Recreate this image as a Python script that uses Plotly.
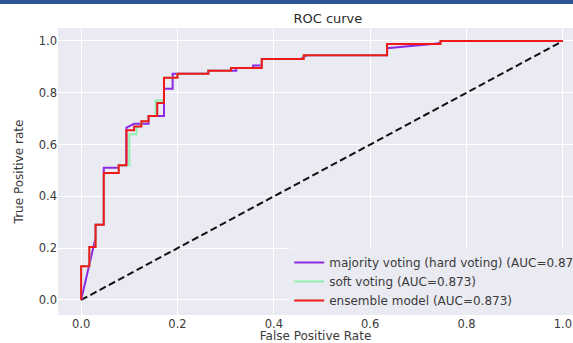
import plotly.graph_objects as go

# Data
hard_fpr = [0, 0.03, 0.03, 0.047, 0.047, 0.078, 0.078, 0.094, 0.094, 0.11, 0.14, 0.14, 0.172, 0.172, 0.19, 0.19,
            0.264, 0.264, 0.322, 0.322, 0.357, 0.357, 0.375, 0.375, 0.455, 0.47, 0.635, 0.635, 0.74, 0.75, 1.0]
hard_tpr = [0, 0.24, 0.29, 0.29, 0.51, 0.51, 0.52, 0.52, 0.665, 0.68, 0.68, 0.71, 0.71, 0.815, 0.815, 0.873,
            0.873, 0.885, 0.885, 0.896, 0.896, 0.905, 0.905, 0.93, 0.93, 0.945, 0.945, 0.972, 0.99, 1.0, 1.0]

soft_fpr = [0, 0, 0.017, 0.017, 0.03, 0.03, 0.047, 0.047, 0.078, 0.078, 0.1, 0.1, 0.115, 0.115, 0.125, 0.125,
            0.14, 0.14, 0.155, 0.155, 0.172, 0.172, 0.2, 0.2, 0.264, 0.264, 0.311, 0.311, 0.375, 0.375,
            0.462, 0.462, 0.635, 0.635, 0.746, 0.746, 1.0]
soft_tpr = [0, 0.13, 0.13, 0.205, 0.205, 0.29, 0.29, 0.49, 0.49, 0.52, 0.52, 0.64, 0.64, 0.67, 0.67, 0.69,
            0.69, 0.71, 0.71, 0.77, 0.77, 0.858, 0.858, 0.873, 0.873, 0.885, 0.885, 0.896, 0.896, 0.93,
            0.93, 0.945, 0.945, 0.988, 0.988, 1.0, 1.0]

ens_fpr = [0, 0, 0.017, 0.017, 0.03, 0.03, 0.047, 0.047, 0.078, 0.078, 0.094, 0.094, 0.11, 0.11, 0.125, 0.125,
           0.14, 0.14, 0.158, 0.158, 0.172, 0.172, 0.2, 0.2, 0.264, 0.264, 0.311, 0.311, 0.375, 0.375,
           0.462, 0.462, 0.635, 0.635, 0.746, 0.746, 1.0]
ens_tpr = [0, 0.13, 0.13, 0.205, 0.205, 0.29, 0.29, 0.49, 0.49, 0.52, 0.52, 0.655, 0.655, 0.67, 0.67, 0.69,
           0.69, 0.71, 0.71, 0.76, 0.76, 0.858, 0.858, 0.873, 0.873, 0.885, 0.885, 0.896, 0.896, 0.93,
           0.93, 0.945, 0.945, 0.988, 0.988, 1.0, 1.0]

chance_x = [0, 1]
chance_y = [0, 1]

labels = ["majority voting (hard voting) (AUC=0.870)", "soft voting (AUC=0.873)", "ensemble model (AUC=0.873)"]
tick_vals = [0, 0.2, 0.4, 0.6, 0.8, 1.0]
tick_text = ["0.0", "0.2", "0.4", "0.6", "0.8", "1.0"]

FONT = "DejaVu Sans"
fig = go.Figure()
fig.add_trace(go.Scatter(x=chance_x, y=chance_y, mode="lines", showlegend=False,
                         line=dict(color="#111111", width=2, dash="7px,3.5px")))
fig.add_trace(go.Scatter(x=hard_fpr, y=hard_tpr, mode="lines", name=labels[0],
                         line=dict(color="#8A2BE2", width=2)))
fig.add_trace(go.Scatter(x=soft_fpr, y=soft_tpr, mode="lines", name=labels[1],
                         line=dict(color="#90F0B0", width=2)))
fig.add_trace(go.Scatter(x=ens_fpr, y=ens_tpr, mode="lines", name=labels[2],
                         line=dict(color="#F01818", width=2)))

fig.update_layout(
    width=573, height=343,
    margin=dict(l=58, r=0, t=28, b=28, autoexpand=False),
    paper_bgcolor="white", plot_bgcolor="#EAEAF2",
    font=dict(family=FONT, size=11.5, color="#3a3a3a"),
    title=dict(text="ROC curve", x=0.524, xref="paper", xanchor="center", y=1, yref="paper",
               yanchor="bottom", pad=dict(b=5), font=dict(size=13, color="#2a2a2a")),
    xaxis=dict(range=[-0.048, 1.021], tickvals=tick_vals, ticktext=tick_text, showgrid=True,
               gridcolor="white", gridwidth=1, zeroline=False, showline=False, ticks="",
               ticklabeloverflow="allow",
               title=dict(text="False Positive Rate", standoff=2, font=dict(size=12))),
    yaxis=dict(range=[-0.058, 1.050], tickvals=tick_vals, ticktext=tick_text, showgrid=True,
               gridcolor="white", gridwidth=1, zeroline=False, showline=False, ticks="",
               ticklabeloverflow="allow",
               title=dict(text="True Positive rate", standoff=12, font=dict(size=12))),
    legend=dict(x=0.449, y=0.0, xanchor="left", yanchor="bottom", bgcolor="rgba(234,234,242,0.85)",
                font=dict(size=12, color="#3a3a3a"), tracegroupgap=0, itemwidth=30),
    shapes=[dict(type="rect", xref="paper", yref="paper", x0=-0.2, x1=1.1,
                 y0=1 + 24 / 287, y1=1 + 29 / 287, fillcolor="#2F5597", line=dict(width=0))],
)

fig.write_html("out.html", config={"displayModeBar": False},
               post_script="document.body.style.margin='0';")
